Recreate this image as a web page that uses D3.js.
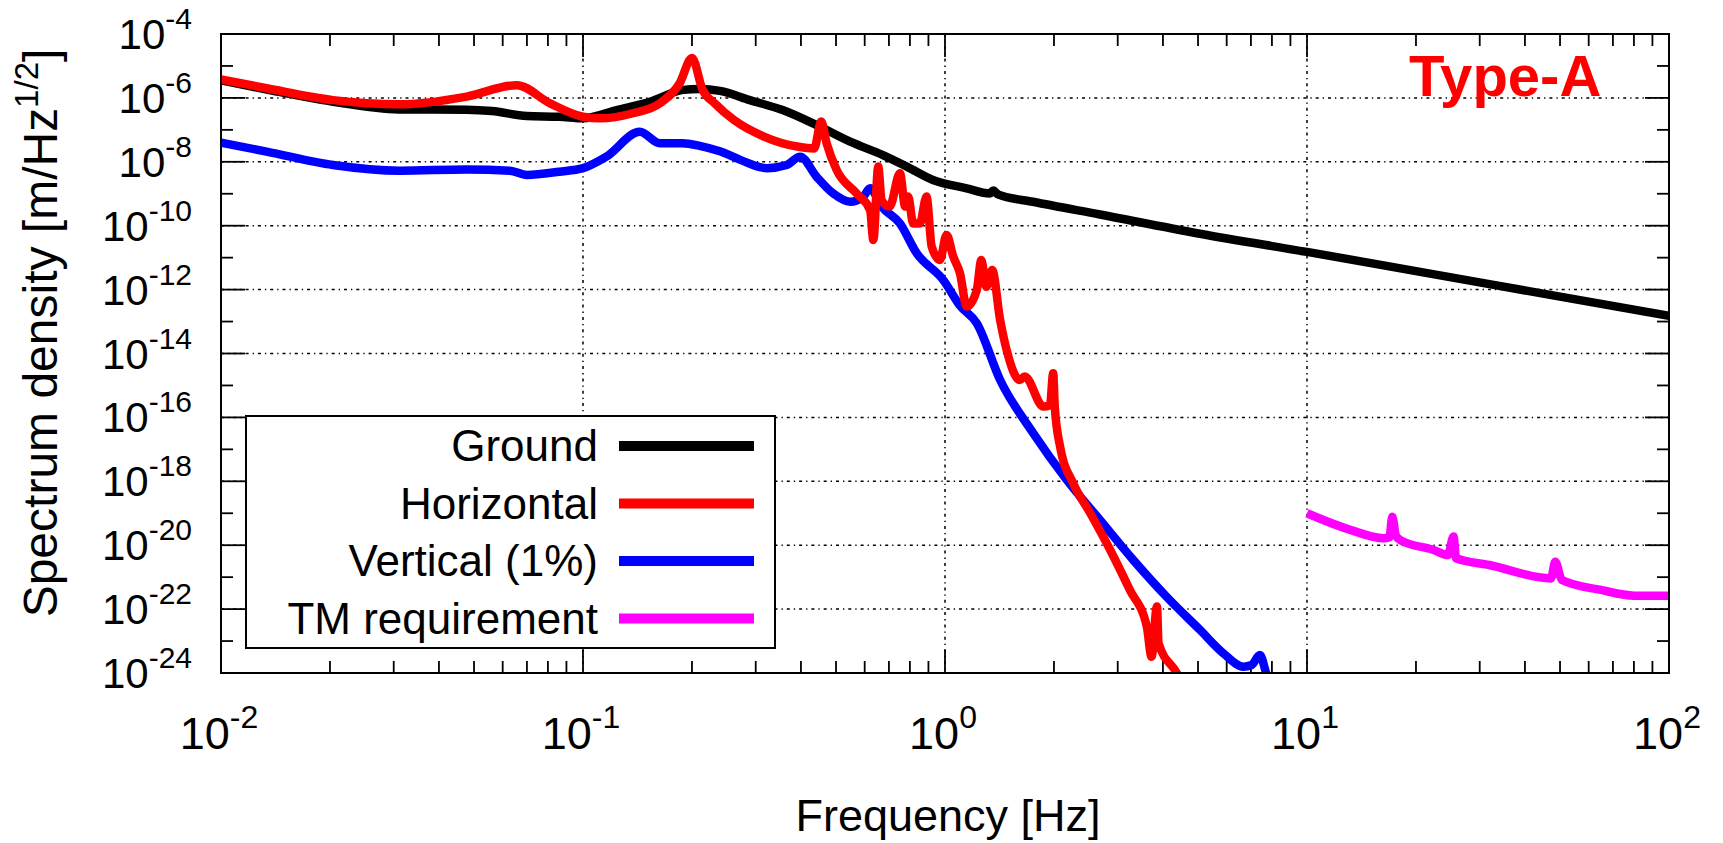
<!DOCTYPE html>
<html><head><meta charset="utf-8">
<script src="https://cdn.jsdelivr.net/npm/d3@7"></script>
<style>body{margin:0;background:#fff}svg{display:block}text{font-family:"Liberation Sans",Arial,sans-serif}</style>
</head><body>
<svg id="c" width="1723" height="843"></svg>
<script>
// ---------- data ----------
const groundFreq = [0.01,0.0134,0.0204,0.031,0.0477,0.056,0.07,0.086,0.1,0.124,0.153,0.189,0.21,0.239,0.289,0.356,0.442,0.547,0.674,0.784,0.926,1.148,1.33,1.36,1.40,1.75,2.68,5.06,10,20,50,100];
const groundVal  = [3.55e-6,1.82e-6,7.59e-7,4.37e-7,4.27e-7,3.89e-7,2.69e-7,2.57e-7,2.29e-7,4.17e-7,7.59e-7,1.78e-6,1.91e-6,1.66e-6,8.51e-7,4.17e-7,1.41e-7,4.27e-8,1.62e-8,7.08e-9,2.69e-9,1.48e-9,1.02e-9,1.26e-9,9.55e-10,5.62e-10,2.24e-10,5.62e-11,1.51e-11,3.80e-12,6.03e-13,1.51e-13];

const horizFreq = [0.01,0.01337,0.0204,0.0312,0.0477,0.0656,0.0811,0.1,0.1114,0.1374,0.163,0.185,0.2,0.214,0.231,0.261,0.316,0.394,0.435,0.455,0.471,0.502,0.570,0.621,0.634,0.654,0.668,0.703,0.751,0.776,0.791,0.817,0.852,0.889,0.919,0.968,1.01,1.054,1.10,1.148,1.224,1.26,1.30,1.35,1.42,1.48,1.61,1.66,1.87,1.95,1.99,2.01,2.08,2.26,2.52,2.86,3.24,3.61,3.72,3.85,3.89,4.37,4.5];
const horizVal  = [3.80e-6,2.00e-6,8.51e-7,6.31e-7,1.10e-6,2.51e-6,6.76e-7,2.57e-7,2.29e-7,3.31e-7,6.76e-7,2.88e-6,1.78e-5,1.78e-6,6.76e-7,2.04e-7,6.17e-8,2.95e-8,2.63e-8,1.82e-7,3.80e-8,5.50e-9,1.02e-9,3.09e-10,3.55e-11,7.08e-9,6.31e-10,3.98e-10,4.37e-9,3.98e-10,8.13e-10,1.17e-10,1.17e-10,8.13e-10,2.19e-11,8.51e-12,5.13e-11,1.07e-11,3.24e-12,2.95e-13,9.77e-13,8.51e-12,1.23e-12,4.07e-12,1.12e-13,1.29e-14,1.48e-15,1.91e-15,2.19e-16,2.40e-16,2.40e-15,2.19e-16,1.20e-17,8.71e-19,1.0e-19,7.08e-21,3.98e-22,2.82e-23,3.24e-24,1.20e-22,8.51e-24,9.77e-25,5.01e-25];

const vertFreq = [0.01,0.01337,0.0204,0.0312,0.0477,0.0628,0.07,0.086,0.1,0.116,0.1436,0.163,0.188,0.21,0.24,0.272,0.322,0.365,0.398,0.442,0.491,0.547,0.595,0.621,0.668,0.751,0.835,0.989,1.10,1.224,1.42,1.754,2.17,2.68,3.31,4.09,5.06,5.87,6.67,7.03,7.41,7.74,7.9];
const vertVal  = [3.98e-8,2.09e-8,7.94e-9,5.25e-9,5.75e-9,5.25e-9,3.89e-9,4.90e-9,6.31e-9,1.45e-8,8.71e-8,3.80e-8,3.80e-8,3.16e-8,2.09e-8,1.15e-8,6.31e-9,7.94e-9,1.45e-8,3.39e-9,1.02e-9,5.62e-10,8.13e-10,1.48e-9,3.98e-10,1.17e-10,1.38e-11,2.00e-12,3.16e-13,8.91e-14,1.48e-15,3.16e-17,1.10e-18,6.17e-20,3.47e-21,2.45e-22,2.24e-23,4.17e-24,1.58e-24,1.78e-24,3.63e-24,8.71e-25,5.01e-25];

const tmFreq = [10,13.17,16.29,16.9,17.2,17.6,18.1,22.4,24.5,25.4,25.8,31.9,47.2,48.5,50.6,64.9,80.2,100];
const tmVal  = [1.0e-19,3.02e-20,1.66e-20,1.78e-20,7.76e-20,2.0e-20,1.45e-20,7.08e-21,4.90e-21,1.86e-20,3.89e-21,2.40e-21,9.12e-22,3.02e-21,8.13e-22,3.98e-22,2.63e-22,2.63e-22];

const seriesNames  = ["Ground","Horizontal","Vertical (1%)","TM requirement"];
const seriesColors = ["#000000","#ff0000","#0000ff","#ff00ff"];
const xTickExp = [-2,-1,0,1,2];
const yTickExp = [-4,-6,-8,-10,-12,-14,-16,-18,-20,-22,-24];
const xTitle = "Frequency [Hz]";
const yTitle = "Spectrum density [m/Hz";
const yTitleSup = "1/2";
const panelLabel = "Type-A";

// ---------- layout ----------
const L = 221, R = 1669, T = 34, B = 673;
const svg = d3.select("#c");
const x = d3.scaleLog().domain([1e-2, 1e2]).range([L, R]);
const y = d3.scaleLog().domain([1e-24, 1e-4]).range([B, T]);

// grid
const grid = svg.append("g").attr("stroke", "#000").attr("stroke-width", 1.5).attr("stroke-dasharray", "3,4,1.3,4");
yTickExp.filter(e => e < -4 && e > -24).forEach(e => {
  grid.append("line").attr("x1", L).attr("x2", R).attr("y1", y(Math.pow(10, e))).attr("y2", y(Math.pow(10, e)));
});
xTickExp.filter(e => e > -2 && e < 2).forEach(e => {
  grid.append("line").attr("y1", T).attr("y2", B).attr("x1", x(Math.pow(10, e))).attr("x2", x(Math.pow(10, e)));
});

// ticks
const tk = svg.append("g").attr("stroke", "#000").attr("stroke-width", 1.8);
for (let e = -24; e <= -4; e++) {
  const yy = y(Math.pow(10, e));
  const len = (e % 2 === 0) ? 24 : 12;
  tk.append("line").attr("x1", L).attr("x2", L + len).attr("y1", yy).attr("y2", yy);
  tk.append("line").attr("x1", R).attr("x2", R - len).attr("y1", yy).attr("y2", yy);
}
for (let e = -2; e < 2; e++) {
  for (let m = 1; m <= 9; m++) {
    const xx = x(m * Math.pow(10, e));
    const len = m === 1 ? 23 : 12;
    tk.append("line").attr("x1", xx).attr("x2", xx).attr("y1", B).attr("y2", B - len);
    tk.append("line").attr("x1", xx).attr("x2", xx).attr("y1", T).attr("y2", T + len);
  }
}

// legend box (drawn over grid)
const lg = svg.append("g");
lg.append("rect").attr("x", 246).attr("y", 416).attr("width", 529).attr("height", 232)
  .attr("fill", "#fff").attr("stroke", "#000").attr("stroke-width", 2);
seriesNames.forEach((n, i) => {
  const yy = 446 + i * 57.5;
  lg.append("text").attr("x", 598).attr("y", yy + 15).attr("text-anchor", "end")
    .attr("font-size", 44).attr("fill", "#000").text(n);
  lg.append("line").attr("x1", 619).attr("x2", 754).attr("y1", yy).attr("y2", yy)
    .attr("stroke", seriesColors[i]).attr("stroke-width", 10);
});

// curves
svg.append("defs").append("clipPath").attr("id", "clip")
  .append("rect").attr("x", L).attr("y", T).attr("width", R - L).attr("height", B - T);
const line = d3.line().curve(d3.curveMonotoneX).x(d => x(d[0])).y(d => y(d[1]));
const cg = svg.append("g").attr("clip-path", "url(#clip)").attr("fill", "none")
  .attr("stroke-width", 8.5).attr("stroke-linejoin", "round");
const series = [
  [groundFreq, groundVal, 0],
  [tmFreq, tmVal, 3],
  [vertFreq, vertVal, 2],
  [horizFreq, horizVal, 1]
];
series.forEach(([f, v, ci]) => {
  cg.append("path").datum(f.map((d, i) => [d, v[i]])).attr("d", line).attr("stroke", seriesColors[ci]);
});

// frame
svg.append("rect").attr("x", L).attr("y", T).attr("width", R - L).attr("height", B - T)
  .attr("fill", "none").attr("stroke", "#000").attr("stroke-width", 2);

// tick labels
yTickExp.forEach(e => {
  const t = svg.append("text").attr("x", 192).attr("y", y(Math.pow(10, e)) + 15)
    .attr("text-anchor", "end").attr("font-size", 42).attr("fill", "#000");
  t.append("tspan").text("10");
  t.append("tspan").attr("dy", -20).attr("font-size", 30).text(String(e));
});
xTickExp.forEach(e => {
  const t = svg.append("text").attr("x", x(Math.pow(10, e)) - 2).attr("y", 749)
    .attr("text-anchor", "middle").attr("font-size", 45).attr("fill", "#000");
  t.append("tspan").text("10");
  t.append("tspan").attr("dy", -21).attr("font-size", 32).text(String(e));
});

// axis titles
svg.append("text").attr("x", 948).attr("y", 831).attr("text-anchor", "middle")
  .attr("font-size", 45).attr("fill", "#000").text(xTitle);
const yt = svg.append("text").attr("transform", "translate(57,333) rotate(-90)")
  .attr("text-anchor", "middle").attr("font-size", 48).attr("fill", "#000");
yt.append("tspan").text(yTitle);
yt.append("tspan").attr("dy", -19).attr("font-size", 33).text(yTitleSup);
yt.append("tspan").attr("dy", 19).text("]");

// panel label
svg.append("text").attr("x", 1409).attr("y", 96).attr("font-size", 58).attr("font-weight", "bold")
  .attr("fill", "#ff0000").text(panelLabel);
</script>
</body></html>
